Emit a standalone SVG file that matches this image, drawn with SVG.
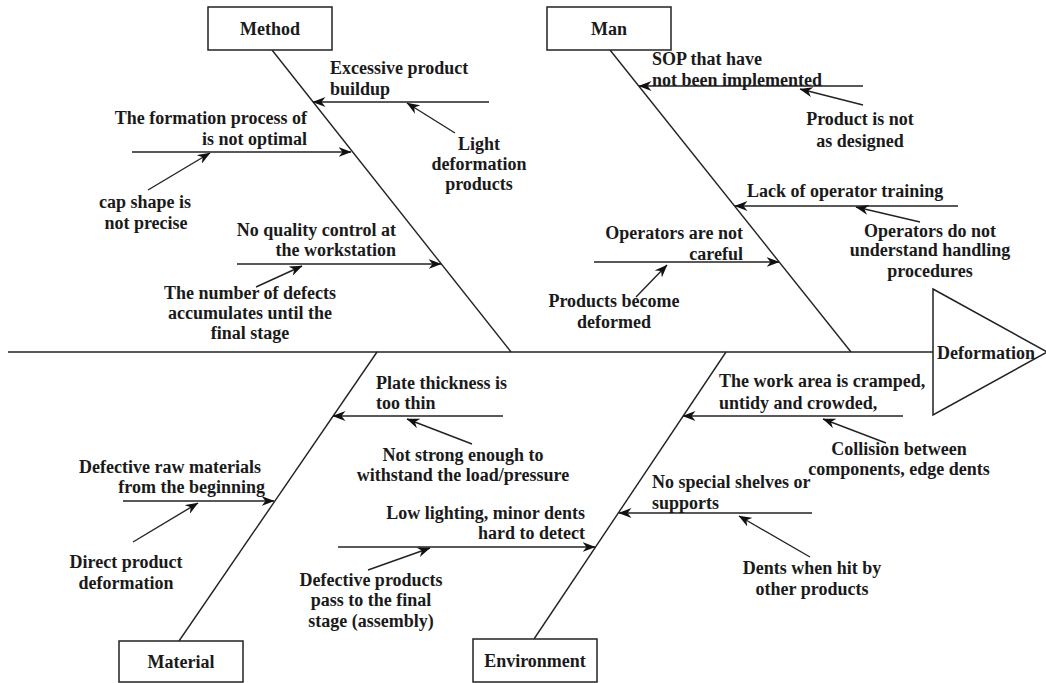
<svg xmlns="http://www.w3.org/2000/svg" width="1046" height="683" viewBox="0 0 1046 683">
<defs>
<marker id="ah" viewBox="0 0 13 10" refX="12.5" refY="5" markerWidth="13" markerHeight="10" markerUnits="userSpaceOnUse" orient="auto">
<path d="M0,0 L13,5 L0,10 L4,5 Z" fill="#111"/>
</marker>
<style>
.t{font-family:"Liberation Serif","Times New Roman",serif;font-weight:bold;font-size:18px;fill:#1a1a1a}
.m{text-anchor:middle}
.e{text-anchor:end}
.ln{stroke:#222;stroke-width:1.4;fill:none}
.ar{stroke:#222;stroke-width:1.4;fill:none;marker-end:url(#ah)}
.box{fill:#fff;stroke:#222;stroke-width:1.5}
</style>
</defs>
<rect width="1046" height="683" fill="#fff"/>

<g id="connectors">
<line class="ln" x1="8" y1="352" x2="933" y2="352"/>
<line class="ln" x1="272" y1="50" x2="511" y2="352"/>
<line class="ln" x1="610" y1="50" x2="851" y2="352"/>
<line class="ln" x1="377" y1="352" x2="179" y2="641"/>
<line class="ln" x1="726" y1="352" x2="534" y2="639"/>
<!-- Method -->
<line class="ar" x1="489" y1="102" x2="313" y2="102"/>
<line class="ar" x1="455" y1="133" x2="407" y2="103"/>
<line class="ar" x1="132" y1="152" x2="351" y2="152"/>
<line class="ar" x1="148" y1="190" x2="210" y2="153"/>
<line class="ar" x1="237" y1="264" x2="441" y2="264"/>
<line class="ar" x1="256" y1="287" x2="302" y2="266"/>
<!-- Man -->
<line class="ar" x1="863" y1="86" x2="639" y2="86"/>
<line class="ar" x1="863" y1="105" x2="800" y2="89"/>
<line class="ar" x1="958" y1="206" x2="735" y2="206"/>
<line class="ar" x1="920" y1="222" x2="856" y2="207"/>
<line class="ar" x1="594" y1="262" x2="779" y2="262"/>
<line class="ar" x1="636" y1="297" x2="667" y2="265"/>
<!-- Material -->
<line class="ar" x1="503" y1="416" x2="333" y2="416"/>
<line class="ar" x1="472" y1="444" x2="407" y2="419"/>
<line class="ar" x1="123" y1="501" x2="274" y2="501"/>
<line class="ar" x1="133" y1="542" x2="198" y2="503"/>
<!-- Environment -->
<line class="ar" x1="903" y1="416" x2="683" y2="416"/>
<line class="ar" x1="886" y1="443" x2="823" y2="419"/>
<line class="ar" x1="812" y1="513" x2="619" y2="513"/>
<line class="ar" x1="810" y1="557" x2="739" y2="516"/>
<line class="ar" x1="338" y1="547" x2="595" y2="547"/>
<line class="ar" x1="368" y1="570" x2="430" y2="548"/>
</g>

<g id="head">
<polygon points="933,289 1047,352 933,415" class="box"/>
<text class="t" x="937" y="359">Deformation</text>
</g>

<g id="method">
<rect class="box" x="208" y="7" width="124" height="43"/>
<text class="t m" x="270" y="35">Method</text>
</g>
<g id="man">
<rect class="box" x="547" y="7" width="124" height="43"/>
<text class="t m" x="609" y="35">Man</text>
</g>
<g id="material">
<rect class="box" x="119" y="641" width="124" height="41"/>
<text class="t m" x="181" y="668">Material</text>
</g>
<g id="environment">
<rect class="box" x="473" y="639" width="124" height="43"/>
<text class="t m" x="535" y="667">Environment</text>
</g>

<g id="c-excessive"><text class="t" x="330" y="74">Excessive product</text><text class="t" x="330" y="95">buildup</text></g>
<g id="c-light"><text class="t m" x="479" y="150">Light</text><text class="t m" x="479" y="170">deformation</text><text class="t m" x="479" y="190">products</text></g>
<g id="c-formation"><text class="t e" x="307" y="124">The formation process of</text><text class="t e" x="307" y="145">is not optimal</text></g>
<g id="c-cap"><text class="t m" x="145" y="208">cap shape is</text><text class="t m" x="146" y="229">not precise</text></g>
<g id="c-quality"><text class="t e" x="396" y="236">No quality control at</text><text class="t e" x="396" y="256">the workstation</text></g>
<g id="c-number"><text class="t m" x="250" y="299">The number of defects</text><text class="t m" x="250" y="319">accumulates until the</text><text class="t m" x="250" y="339">final stage</text></g>

<g id="c-sop"><text class="t" x="652" y="65">SOP that have</text><text class="t" x="652" y="86">not been implemented</text></g>
<g id="c-product"><text class="t m" x="860" y="125">Product is not</text><text class="t m" x="860" y="147">as designed</text></g>
<g id="c-lack"><text class="t" x="747" y="197">Lack of operator training</text></g>
<g id="c-opdonot"><text class="t m" x="930" y="237">Operators do not</text><text class="t m" x="930" y="256">understand handling</text><text class="t m" x="930" y="277">procedures</text></g>
<g id="c-careful"><text class="t e" x="743" y="239">Operators are not</text><text class="t e" x="743" y="260">careful</text></g>
<g id="c-become"><text class="t m" x="614" y="307">Products become</text><text class="t m" x="614" y="328">deformed</text></g>

<g id="c-plate"><text class="t" x="376" y="389">Plate thickness is</text><text class="t" x="376" y="409">too thin</text></g>
<g id="c-strong"><text class="t m" x="463" y="461">Not strong enough to</text><text class="t m" x="463" y="481">withstand the load/pressure</text></g>
<g id="c-raw"><text class="t e" x="261" y="473">Defective raw materials</text><text class="t e" x="265" y="493">from the beginning</text></g>
<g id="c-direct"><text class="t m" x="126" y="568">Direct product</text><text class="t m" x="126" y="589">deformation</text></g>

<g id="c-work"><text class="t" x="719" y="387">The work area is cramped,</text><text class="t" x="719" y="409">untidy and crowded,</text></g>
<g id="c-collision"><text class="t m" x="899" y="455">Collision between</text><text class="t m" x="899" y="475">components, edge dents</text></g>
<g id="c-shelves"><text class="t" x="652" y="488">No special shelves or</text><text class="t" x="652" y="509">supports</text></g>
<g id="c-dents"><text class="t m" x="812" y="574">Dents when hit by</text><text class="t m" x="812" y="595">other products</text></g>
<g id="c-lighting"><text class="t e" x="585" y="519">Low lighting, minor dents</text><text class="t e" x="585" y="539">hard to detect</text></g>
<g id="c-pass"><text class="t m" x="371" y="586">Defective products</text><text class="t m" x="371" y="606">pass to the final</text><text class="t m" x="371" y="627">stage (assembly)</text></g>
</svg>
